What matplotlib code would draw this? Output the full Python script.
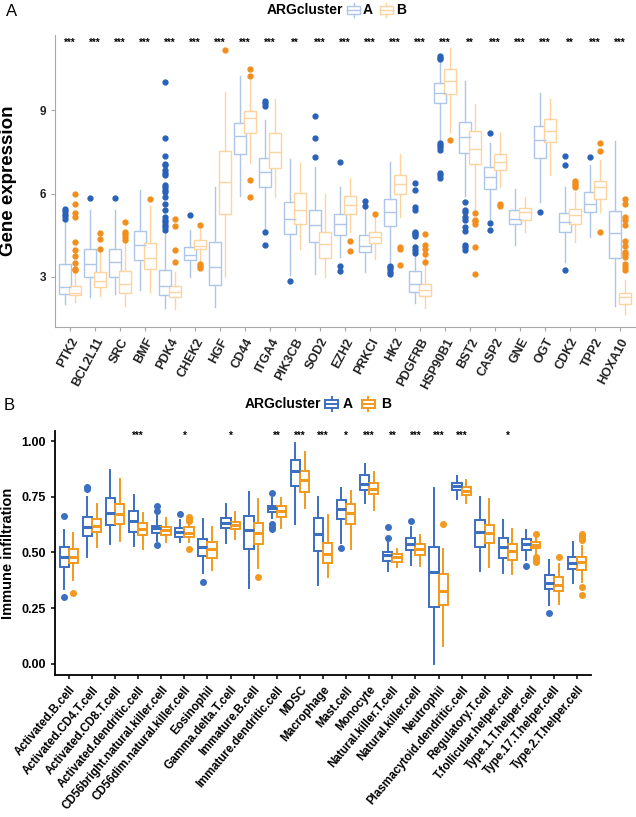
import matplotlib
matplotlib.use("Agg")
import matplotlib.pyplot as plt
import numpy as np
from matplotlib.patches import Rectangle
from matplotlib.lines import Line2D

plt.rcParams['font.family'] = ['Liberation Sans', 'DejaVu Sans']

# ---------------- panel A data : gene expression ----------------
genes = ['PTK2', 'BCL2L11', 'SRC', 'BMF', 'PDK4', 'CHEK2', 'HGF', 'CD44', 'ITGA4', 'PIK3CB',
         'SOD2', 'EZH2', 'PRKCI', 'HK2', 'PDGFRB', 'HSP90B1', 'BST2', 'CASP2', 'GNE', 'OGT',
         'CDK2', 'TPP2', 'HOXA10']
gene_sig = ['***'] * 9 + ['**'] + ['***'] * 6 + ['**'] + ['***'] * 3 + ['**'] + ['***'] * 2

# cluster A
gA_q1 = [2.38, 3.00, 3.00, 3.62, 2.35, 3.60, 2.72, 7.42, 6.24, 4.56, 4.24, 4.52, 3.88, 4.84, 2.45, 9.26, 7.44, 6.15, 4.90, 7.27, 4.60, 5.33, 3.68]
gA_med = [2.64, 3.46, 3.55, 4.15, 2.68, 3.80, 3.35, 8.07, 6.78, 5.08, 4.86, 4.92, 4.13, 5.34, 2.74, 9.62, 8.02, 6.58, 5.09, 7.92, 4.98, 5.64, 4.58]
gA_q3 = [3.46, 4.01, 4.02, 4.67, 3.26, 4.08, 4.24, 8.55, 7.26, 5.70, 5.42, 5.28, 4.51, 5.82, 3.22, 9.98, 8.58, 6.94, 5.40, 8.44, 5.30, 6.06, 5.38]
gA_lo = [2.04, 2.28, 2.38, 2.52, 1.90, 2.98, 1.92, 5.90, 4.74, 3.06, 3.12, 3.72, 3.18, 3.54, 2.06, 7.92, 5.90, 5.04, 4.16, 5.70, 3.54, 4.44, 1.94]
gA_hi = [5.00, 5.40, 5.40, 6.12, 4.56, 4.70, 6.24, 10.23, 8.64, 7.23, 6.96, 6.24, 5.64, 7.14, 4.20, 10.80, 10.03, 7.80, 6.18, 9.63, 6.22, 7.02, 7.89]
gA_out = [[5.45, 5.37, 5.28, 5.18, 5.08], [5.83], [5.83], [],
          [10.0, 7.98, 7.36, 7.07, 7.01, 6.84, 6.74, 6.65, 6.29, 6.22, 6.14, 6.06, 5.88, 5.62,
           5.40, 5.16, 5.06, 4.97, 4.87, 4.78, 4.68],
          [5.22], [], [], [9.33, 9.24, 9.16, 4.60, 4.16], [2.86], [8.79, 7.98, 7.31],
          [7.13, 3.41, 3.20], [5.74, 5.55], [3.41, 3.34, 3.27, 3.19, 3.12],
          [6.39, 6.12, 5.52, 5.42, 4.63, 4.58, 4.54, 4.49, 4.06, 3.96, 3.86],
          [10.95, 10.88, 10.83, 7.83, 7.74, 7.66, 7.56, 6.72, 6.65, 6.56],
          [5.68, 5.40, 5.34, 5.16, 5.06, 4.80, 4.64, 4.16, 4.08, 3.96],
          [8.19, 4.94, 4.70], [], [5.33], [7.35, 7.03, 3.26], [7.30], []]

# cluster B
gB_q1 = [2.35, 2.64, 2.44, 3.29, 2.28, 4.02, 5.28, 8.16, 6.93, 4.92, 3.67, 5.26, 4.22, 5.97, 2.32, 9.59, 7.06, 6.84, 5.06, 7.84, 4.92, 5.80, 2.04]
gB_med = [2.42, 2.86, 2.74, 3.68, 2.46, 4.13, 6.42, 8.70, 7.50, 5.39, 4.18, 5.60, 4.42, 6.34, 2.52, 10.03, 7.61, 7.12, 5.33, 8.23, 5.22, 6.24, 2.28]
gB_q3 = [2.69, 3.18, 3.20, 4.22, 2.66, 4.34, 7.54, 8.97, 8.19, 6.03, 4.63, 5.90, 4.63, 6.67, 2.76, 10.48, 8.23, 7.42, 5.48, 8.67, 5.44, 6.46, 2.44]
gB_lo = [2.10, 2.30, 1.94, 2.46, 1.86, 3.58, 3.00, 7.08, 5.88, 4.02, 3.00, 4.62, 3.66, 5.14, 1.90, 8.22, 5.42, 6.24, 4.62, 6.68, 4.26, 5.34, 1.68]
gB_hi = [3.15, 3.96, 4.20, 5.55, 3.18, 4.72, 9.66, 10.08, 9.39, 7.08, 5.98, 6.54, 5.16, 7.42, 3.72, 11.22, 9.22, 8.16, 5.88, 9.39, 6.05, 7.20, 2.90]
gB_out = [[6.00, 5.62, 5.30, 5.14, 4.27, 3.98, 3.74, 3.50, 3.29, 3.24], [4.58, 4.38, 4.02],
          [4.97, 4.63, 4.54, 4.44, 4.34], [5.80], [5.10, 4.82, 3.98, 3.52], [4.87, 3.48, 3.38, 3.31],
          [11.16], [10.47, 10.23, 6.47, 5.89], [], [], [], [4.30, 3.94], [5.28], [4.06, 4.01, 3.42],
          [4.56, 4.15, 4.00, 3.82, 3.54], [7.92], [5.30, 5.06, 5.00, 4.92, 4.08, 3.12], [5.64, 5.56],
          [], [], [6.46, 6.39, 6.31, 6.24], [7.83, 7.52, 4.60],
          [5.82, 5.64, 5.14, 5.06, 4.86, 4.30, 4.10, 3.91, 3.82, 3.72, 3.48, 3.34, 3.24]]

# ---------------- panel B data : immune infiltration ----------------
cells = ['Activated.B.cell', 'Activated.CD4.T.cell', 'Activated.CD8.T.cell', 'Activated.dendritic.cell',
         'CD56bright.natural.killer.cell', 'CD56dim.natural.killer.cell', 'Eosinophil', 'Gamma.delta.T.cell',
         'Immature.B.cell', 'Immature.dendritic.cell', 'MDSC', 'Macrophage', 'Mast.cell', 'Monocyte',
         'Natural.killer.T.cell', 'Natural.killer.cell', 'Neutrophil', 'Plasmacytoid.dendritic.cell',
         'Regulatory.T.cell', 'T.follicular.helper.cell', 'Type.1.T.helper.cell', 'Type.17.T.helper.cell',
         'Type.2.T.helper.cell']
cell_sig = ['', '', '', '***', '', '*', '', '*', '', '**', '***', '***', '*', '***', '**', '***', '***',
            '***', '', '*', '', '', '']

iA_q1 = [0.434, 0.574, 0.625, 0.590, 0.589, 0.571, 0.484, 0.611, 0.514, 0.680, 0.798, 0.507, 0.650, 0.780, 0.463, 0.513, 0.257, 0.778, 0.526, 0.477, 0.511, 0.336, 0.425]
iA_med = [0.481, 0.613, 0.679, 0.643, 0.608, 0.590, 0.525, 0.634, 0.601, 0.698, 0.867, 0.582, 0.694, 0.809, 0.487, 0.538, 0.414, 0.797, 0.593, 0.525, 0.538, 0.365, 0.454]
iA_q3 = [0.523, 0.658, 0.743, 0.688, 0.620, 0.608, 0.559, 0.656, 0.664, 0.709, 0.915, 0.656, 0.736, 0.849, 0.502, 0.563, 0.523, 0.811, 0.646, 0.566, 0.560, 0.397, 0.478]
iA_lo = [0.335, 0.480, 0.538, 0.531, 0.552, 0.549, 0.407, 0.544, 0.339, 0.653, 0.626, 0.354, 0.544, 0.720, 0.415, 0.444, 0.000, 0.740, 0.418, 0.407, 0.466, 0.265, 0.365]
iA_hi = [0.600, 0.750, 0.870, 0.758, 0.668, 0.646, 0.650, 0.716, 0.770, 0.743, 0.993, 0.747, 0.790, 0.897, 0.550, 0.616, 0.790, 0.845, 0.750, 0.644, 0.600, 0.466, 0.549]
iA_out = [[0.665, 0.299], [0.795, 0.783], [], [], [0.709, 0.688, 0.535], [0.673], [0.369], [], [],
          [0.768, 0.628, 0.616, 0.604], [], [], [0.519], [], [0.612, 0.567], [0.643], [], [], [], [],
          [0.441], [0.227], []]

iB_q1 = [0.454, 0.590, 0.628, 0.578, 0.580, 0.568, 0.474, 0.605, 0.538, 0.661, 0.771, 0.451, 0.628, 0.761, 0.459, 0.487, 0.263, 0.756, 0.541, 0.465, 0.519, 0.329, 0.422]
iB_med = [0.481, 0.619, 0.674, 0.604, 0.601, 0.589, 0.517, 0.625, 0.586, 0.685, 0.824, 0.492, 0.675, 0.786, 0.480, 0.516, 0.329, 0.774, 0.589, 0.508, 0.534, 0.354, 0.457]
iB_q3 = [0.514, 0.650, 0.716, 0.631, 0.616, 0.613, 0.546, 0.638, 0.631, 0.709, 0.864, 0.541, 0.716, 0.813, 0.492, 0.536, 0.405, 0.792, 0.622, 0.540, 0.545, 0.388, 0.478]
iB_lo = [0.377, 0.523, 0.553, 0.514, 0.546, 0.549, 0.419, 0.559, 0.429, 0.608, 0.698, 0.392, 0.514, 0.690, 0.433, 0.441, 0.078, 0.720, 0.436, 0.402, 0.490, 0.269, 0.369]
iB_hi = [0.586, 0.717, 0.830, 0.676, 0.653, 0.638, 0.613, 0.680, 0.738, 0.743, 0.952, 0.668, 0.777, 0.860, 0.515, 0.580, 0.516, 0.824, 0.738, 0.604, 0.570, 0.448, 0.527]
iB_out = [[0.317], [], [], [], [], [0.661, 0.650, 0.643, 0.514], [], [], [0.389], [], [], [], [], [], [],
          [], [0.626], [], [], [], [0.583, 0.481, 0.472, 0.463, 0.457], [0.478],
          [0.583, 0.574, 0.565, 0.556, 0.344, 0.308]]

# colours
blue_light, orange_light = '#adc6ea', '#fdd3a0'
blue, orange = '#2a62b8', '#f28e1c'
blue_b, orange_b = '#3b6fc0', '#f39a1e'


def make_stats(q1, med, q3, lo, hi, out):
    return [dict(q1=a, med=b, q3=c, whislo=d, whishi=e, fliers=f)
            for a, b, c, d, e, f in zip(q1, med, q3, lo, hi, out)]


def draw_boxes(ax, stats, pos, width, edge, pt, lw, mlw, ms):
    ax.bxp(stats, positions=pos, widths=width, patch_artist=True, showcaps=False,
           boxprops=dict(facecolor='white', edgecolor=edge, linewidth=lw),
           whiskerprops=dict(color=edge, linewidth=lw),
           medianprops=dict(color=edge, linewidth=mlw),
           flierprops=dict(marker='o', markerfacecolor=pt, markeredgecolor=pt, markersize=ms))


W, H = 636, 817
fig = plt.figure(figsize=(W / 100, H / 100), dpi=100)


def fx(px):
    return px / W


def fy(py):
    return 1 - py / H


# ---------------- panel A ----------------
axA = fig.add_axes([fx(55), fy(327), fx(580), (327 - 35) / H])
xg = np.arange(len(genes))
draw_boxes(axA, make_stats(gA_q1, gA_med, gA_q3, gA_lo, gA_hi, gA_out), xg - 0.2, 0.5,
           blue_light, blue, 1.0, 1.0, 3.5)
draw_boxes(axA, make_stats(gB_q1, gB_med, gB_q3, gB_lo, gB_hi, gB_out), xg + 0.2, 0.5,
           orange_light, orange, 1.0, 1.0, 3.5)
for i, s in enumerate(gene_sig):
    axA.text(i, 11.42, s, ha='center', va='center', fontsize=7, fontweight='bold')
axA.set_xlim(-0.6, len(genes) - 0.4)
axA.set_ylim(1.2, 11.7)
axA.set_yticks([3, 6, 9])
axA.set_yticklabels(['3', '6', '9'], fontsize=8.5, fontweight='bold', color='#333333')
axA.set_xticks(xg)
axA.set_xticklabels(genes, rotation=62, ha='right', rotation_mode='anchor',
                    fontsize=9, fontweight='bold', color='#222222')
for sp in ['top', 'right']:
    axA.spines[sp].set_visible(False)
for sp in ['left', 'bottom']:
    axA.spines[sp].set_color('#a8a8a8')
axA.tick_params(colors='#a8a8a8', length=3, labelcolor='#222222')
axA.set_ylabel('Gene expression', fontsize=13.5, fontweight='bold')
axA.yaxis.set_label_coords((17 - 55) / 580, 0.5)

# ---------------- panel B ----------------
axB = fig.add_axes([fx(55), fy(675), fx(536), (675 - 431) / H])
xc = np.arange(len(cells))
draw_boxes(axB, make_stats(iA_q1, iA_med, iA_q3, iA_lo, iA_hi, iA_out), xc - 0.2, 0.4,
           blue_b, blue_b, 1.4, 2.2, 4)
draw_boxes(axB, make_stats(iB_q1, iB_med, iB_q3, iB_lo, iB_hi, iB_out), xc + 0.2, 0.4,
           orange_b, orange_b, 1.4, 2.2, 4)
for i, s in enumerate(cell_sig):
    axB.text(i, 1.025, s, ha='center', va='center', fontsize=7, fontweight='bold')
axB.set_xlim(-0.6, len(cells) - 0.4)
axB.set_ylim(-0.05, 1.045)
axB.set_yticks([0, 0.25, 0.5, 0.75, 1.0])
axB.set_yticklabels(['0.00', '0.25', '0.50', '0.75', '1.00'], fontsize=9, fontweight='bold')
axB.set_xticks(xc)
axB.set_xticklabels(cells, rotation=50, ha='right', rotation_mode='anchor',
                    fontsize=8.4, fontweight='bold')
for sp in ['top', 'right']:
    axB.spines[sp].set_visible(False)
for sp in ['left', 'bottom']:
    axB.spines[sp].set_linewidth(1.3)
axB.tick_params(length=3, width=1.1)
axB.set_ylabel('Immune infiltration', fontsize=10.5, fontweight='bold')
axB.yaxis.set_label_coords((15 - 55) / 536, 0.5)


# ---------------- legends & panel letters ----------------
def draw_key(x0, yc, color, lw):
    w, h = 13, 8
    fig.add_artist(Rectangle((fx(x0), fy(yc + h / 2)), w / W, h / H, transform=fig.transFigure,
                             facecolor='white', edgecolor=color, linewidth=lw))
    fig.add_artist(Line2D([fx(x0), fx(x0 + w)], [fy(yc), fy(yc)], transform=fig.transFigure,
                          color=color, linewidth=lw))
    fig.add_artist(Line2D([fx(x0 + w / 2)] * 2, [fy(yc - h / 2 - 3), fy(yc - h / 2)],
                          transform=fig.transFigure, color=color, linewidth=lw))
    fig.add_artist(Line2D([fx(x0 + w / 2)] * 2, [fy(yc + h / 2), fy(yc + h / 2 + 3)],
                          transform=fig.transFigure, color=color, linewidth=lw))


fig.text(fx(343), fy(10), 'ARGcluster', ha='right', va='center', fontsize=10, fontweight='bold')
draw_key(347, 10, blue_light, 1.0)
fig.text(fx(363), fy(10), 'A', ha='left', va='center', fontsize=10, fontweight='bold')
draw_key(380, 10, orange_light, 1.0)
fig.text(fx(396), fy(10), 'B', ha='left', va='center', fontsize=10, fontweight='bold')

fig.text(fx(321), fy(404), 'ARGcluster', ha='right', va='center', fontsize=10, fontweight='bold')
draw_key(325, 404, blue_b, 1.4)
fig.text(fx(343), fy(404), 'A', ha='left', va='center', fontsize=10, fontweight='bold')
draw_key(362, 404, orange_b, 1.4)
fig.text(fx(381), fy(404), 'B', ha='left', va='center', fontsize=10, fontweight='bold')

fig.text(fx(6), fy(11), 'A', ha='left', va='center', fontsize=12)
fig.text(fx(4), fy(405), 'B', ha='left', va='center', fontsize=12)

fig.savefig('out.png', dpi=100)
